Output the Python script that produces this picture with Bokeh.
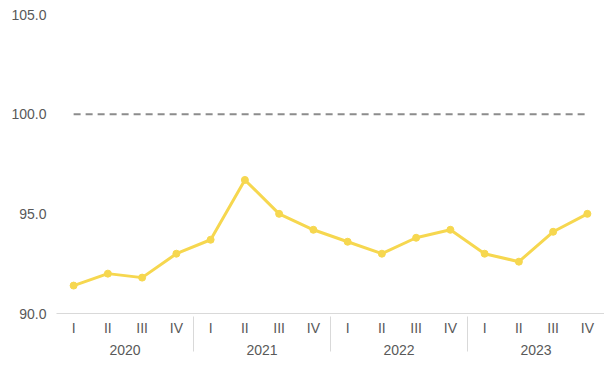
from bokeh.plotting import figure
from bokeh.models import FactorRange, Range1d, FixedTicker, NumeralTickFormatter
from bokeh.embed import file_html
from bokeh.resources import INLINE

years = ["2020", "2021", "2022", "2023"]
quarters = ["I", "II", "III", "IV"]
values = [91.4, 92.0, 91.8, 93.0,
          93.7, 96.7, 95.0, 94.2,
          93.6, 93.0, 93.8, 94.2,
          93.0, 92.6, 94.1, 95.0]
baseline = [100.0] * 16
y_ticks = [90, 95, 100, 105]

factors = [(y, q) for y in years for q in quarters]

p = figure(frame_width=548, frame_height=299, output_backend="svg", toolbar_location=None,
           x_range=FactorRange(*factors, factor_padding=0, group_padding=0, range_padding=0),
           y_range=Range1d(90, 105),
           min_border_left=56, min_border_right=0, min_border_top=14, min_border_bottom=10)
p.outline_line_color = None
p.xgrid.grid_line_color = None
p.ygrid.grid_line_color = None

p.line(factors, baseline, line_color="#8c8c8c", line_width=2, line_dash="7 5")
p.line(factors, values, line_color="#F6D74F", line_width=3)
p.scatter(factors, values, size=7, fill_color="#F6D74F", line_color="#F6D74F")

ya = p.yaxis[0]
ya.ticker = FixedTicker(ticks=y_ticks)
ya.formatter = NumeralTickFormatter(format="0.0")
ya.axis_line_color = None
ya.major_tick_line_color = None
ya.minor_tick_line_color = None
ya.major_tick_out = 0
ya.major_label_text_font = "Liberation Sans"
ya.major_label_text_font_size = "14px"
ya.major_label_text_color = "#595959"
ya.major_label_standoff = 10

xa = p.xaxis[0]
xa.axis_line_color = "#d9d9d9"
xa.axis_line_width = 1
xa.major_tick_line_color = None
xa.minor_tick_line_color = None
xa.major_tick_out = 0
xa.major_label_text_font = "Liberation Sans"
xa.major_label_text_font_size = "14px"
xa.major_label_text_color = "#595959"
xa.group_text_font = "Liberation Sans"
xa.group_text_font_size = "14px"
xa.group_text_color = "#595959"
xa.group_text_font_style = "normal"
xa.group_text_line_height = 2.5
xa.separator_line_color = "#d9d9d9"
xa.separator_line_width = 1
xa.major_label_standoff = 6

open("out.html", "w").write(file_html(p, INLINE))
